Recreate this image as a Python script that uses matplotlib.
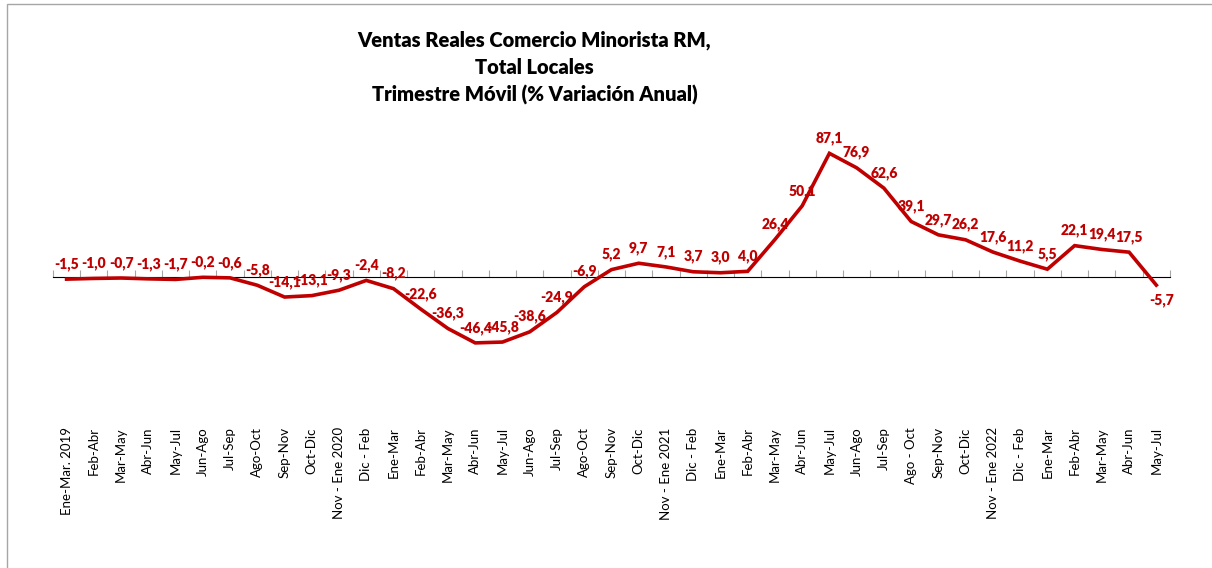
import matplotlib.pyplot as plt
from matplotlib.patches import Rectangle

periodos = ["Ene-Mar. 2019", "Feb-Abr", "Mar-May", "Abr-Jun", "May-Jul", "Jun-Ago",
            "Jul-Sep", "Ago-Oct", "Sep-Nov", "Oct-Dic", "Nov - Ene 2020", "Dic - Feb",
            "Ene-Mar", "Feb-Abr", "Mar-May", "Abr-Jun", "May-Jul", "Jun-Ago", "Jul-Sep",
            "Ago-Oct", "Sep-Nov", "Oct-Dic", "Nov - Ene 2021", "Dic - Feb", "Ene-Mar",
            "Feb-Abr", "Mar-May", "Abr-Jun", "May-Jul", "Jun-Ago", "Jul-Sep", "Ago - Oct",
            "Sep-Nov", "Oct-Dic", "Nov - Ene 2022", "Dic - Feb", "Ene-Mar", "Feb-Abr",
            "Mar-May", "Abr-Jun", "May-Jul"]
variacion = [-1.5, -1.0, -0.7, -1.3, -1.7, -0.2, -0.6, -5.8, -14.1, -13.1, -9.3, -2.4,
             -8.2, -22.6, -36.3, -46.4, -45.8, -38.6, -24.9, -6.9, 5.2, 9.7, 7.1, 3.7,
             3.0, 4.0, 26.4, 50.1, 87.1, 76.9, 62.6, 39.1, 29.7, 26.2, 17.6, 11.2, 5.5,
             22.1, 19.4, 17.5, -5.7]

plt.rcParams['font.family'] = ['Lato', 'DejaVu Sans']
rojo = '#C00000'

fig = plt.figure(figsize=(12.12, 5.68), dpi=100)
# marco gris del grafico
fig.patches.append(Rectangle((7 / 1212, -0.1), 1.2, 1.1 - 4 / 568, transform=fig.transFigure,
                             fill=False, edgecolor='#A6A6A6', linewidth=1))

ax = fig.add_axes([0.0437, 0.2623, 0.9216, 0.5])
x = list(range(len(periodos)))
ax.plot(x, variacion, color=rojo, linewidth=2.6, solid_joinstyle='miter')

# etiquetas de datos
for i, v in enumerate(variacion):
    txt = f"{v:.1f}".replace('.', ',')
    if i == len(variacion) - 1:
        ax.annotate(txt, (i, v), xytext=(4, -6), textcoords='offset points',
                    ha='center', va='top', color=rojo, fontsize=10, fontweight='heavy')
    else:
        ax.annotate(txt, (i, v), xytext=(0, 6), textcoords='offset points',
                    ha='center', va='bottom', color=rojo, fontsize=10, fontweight='heavy')

ax.set_xlim(-0.5, len(periodos) - 0.5)
ax.set_ylim(-100, 100)
ax.set_yticks([])
for s in ax.spines.values():
    s.set_visible(False)
ax.set_xticks(x)
ax.set_xticklabels(periodos, rotation=90, fontsize=9.5)
ax.tick_params(axis='x', length=0, pad=6)

# eje en cero con marcas entre categorias
sec = ax.secondary_xaxis(0.5)
sec.set_xticks([i - 0.5 for i in range(len(periodos) + 1)])
sec.set_xticklabels([])
sec.tick_params(axis='x', length=5, color='#A6A6A6', direction='out')
sec.spines['bottom'].set_color('#A6A6A6')
sec.spines['bottom'].set_linewidth(1)

for yy, linea in [(0.93, "Ventas Reales Comercio Minorista RM,"),
                  (0.882, "Total Locales"),
                  (0.833, "Trimestre Móvil (% Variación Anual)")]:
    fig.text(0.441, yy, linea, ha='center', va='center', fontsize=14.5, fontweight='heavy')

fig.savefig('out.png', dpi=100)
